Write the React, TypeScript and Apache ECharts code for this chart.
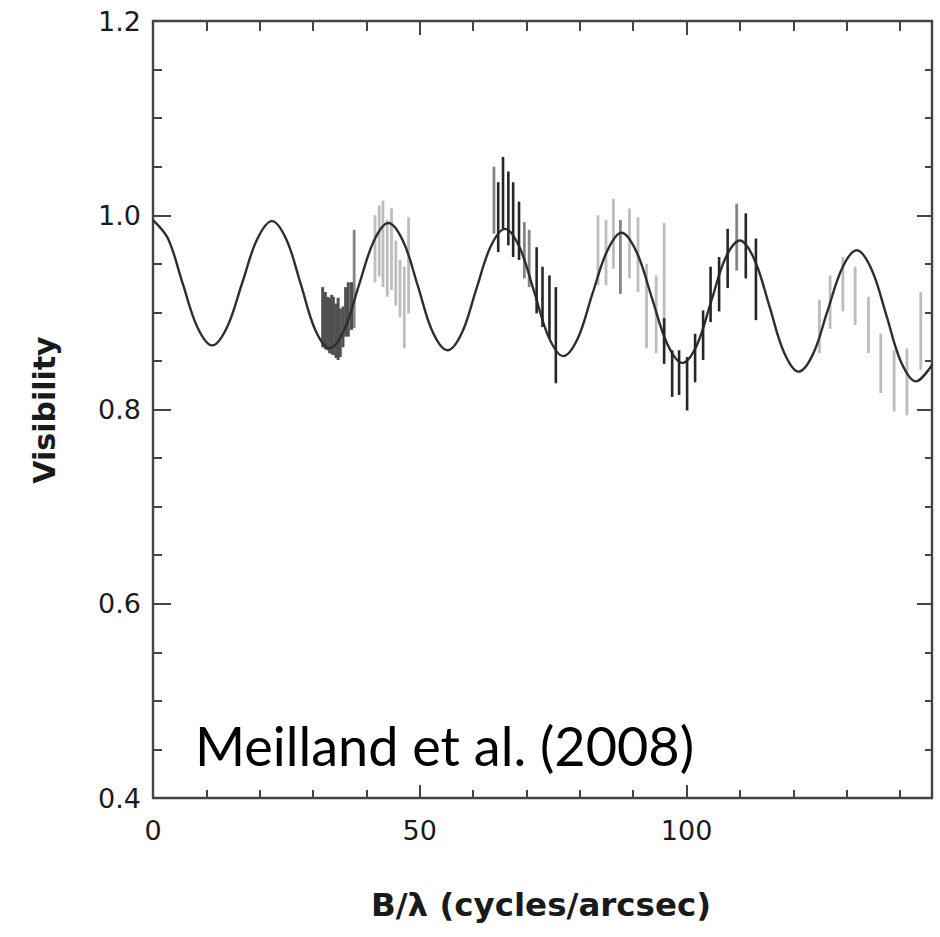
import React, { useEffect, useRef } from "react";
import * as echarts from "echarts";

// Model visibility curve
const CURVE_X = [0, 2.8, 5.55, 8.3, 11.1, 13.9, 16.7, 19.5, 22.3, 25.0, 27.7, 30.4, 33.1, 35.85, 38.6, 41.35, 44.1, 46.9, 49.65, 52.4, 55.2, 57.9, 60.6, 63.3, 66.0, 68.7, 71.45, 74.2, 76.9, 79.6, 82.35, 85.1, 87.8, 90.65, 93.5, 96.35, 99.2, 101.9, 104.6, 107.3, 110.0, 112.75, 115.5, 118.25, 121.0, 123.7, 126.45, 129.2, 131.9, 134.7, 137.45, 140.2, 143.0, 146.0];
const CURVE_V = [0.995, 0.976, 0.930, 0.885, 0.866, 0.885, 0.930, 0.975, 0.994, 0.975, 0.929, 0.882, 0.863, 0.882, 0.928, 0.973, 0.992, 0.973, 0.927, 0.880, 0.861, 0.879, 0.924, 0.968, 0.986, 0.967, 0.921, 0.874, 0.855, 0.873, 0.919, 0.963, 0.982, 0.962, 0.915, 0.868, 0.848, 0.866, 0.911, 0.956, 0.974, 0.954, 0.907, 0.859, 0.839, 0.857, 0.902, 0.946, 0.964, 0.944, 0.897, 0.849, 0.829, 0.846];

// Error bars: [B/lambda, low, high]
const DARK_BARS = [[31.8, 0.864, 0.926], [32.3, 0.862, 0.921], [32.7, 0.861, 0.916], [33.1, 0.858, 0.915], [33.5, 0.857, 0.918], [33.8, 0.856, 0.916], [34.3, 0.853, 0.909], [34.7, 0.851, 0.915], [35.1, 0.854, 0.904], [35.6, 0.864, 0.906], [36.1, 0.875, 0.926], [36.6, 0.875, 0.931], [37.2, 0.882, 0.931]];
const MID_BARS = [[37.7, 0.884, 0.985], [63.9, 0.981, 1.050], [69.6, 0.935, 0.993], [70.5, 0.926, 0.985], [87.6, 0.919, 0.995], [109.4, 0.943, 1.012]];
const BLACK_BARS = [[64.7, 0.962, 1.034], [65.6, 0.986, 1.060], [66.6, 0.969, 1.045], [67.5, 0.957, 1.034], [68.6, 0.954, 1.014], [71.9, 0.899, 0.967], [73.0, 0.885, 0.947], [74.3, 0.873, 0.938], [75.5, 0.827, 0.926], [95.8, 0.847, 0.894], [97.3, 0.813, 0.861], [98.6, 0.815, 0.861], [100.1, 0.799, 0.854], [101.6, 0.828, 0.878], [103.1, 0.851, 0.902], [104.5, 0.890, 0.947], [106.1, 0.901, 0.957], [107.7, 0.925, 0.986], [111.1, 0.935, 1.002], [113.0, 0.892, 0.976]];
const LIGHT_BARS = [[41.6, 0.931, 1.000], [42.4, 0.937, 1.010], [43.1, 0.926, 1.015], [43.9, 0.916, 0.995], [44.7, 0.923, 1.007], [45.5, 0.907, 0.974], [46.3, 0.895, 0.954], [47.1, 0.863, 0.947], [47.9, 0.899, 0.998], [83.4, 0.928, 1.000], [84.9, 0.928, 0.995], [86.3, 0.945, 1.017], [89.3, 0.935, 1.007], [90.9, 0.921, 0.998], [92.5, 0.863, 0.950], [94.3, 0.858, 0.938], [95.8, 0.864, 0.992], [124.9, 0.858, 0.913], [126.9, 0.883, 0.938], [129.3, 0.901, 0.957], [131.6, 0.887, 0.947], [134.1, 0.858, 0.916], [136.4, 0.817, 0.878], [138.9, 0.798, 0.861], [141.3, 0.794, 0.863], [143.9, 0.841, 0.921]];

// Axis ticks / labels
const X_MINOR = [0, 10, 20, 30, 40, 50, 60, 70, 80, 90, 100, 110, 120, 130, 140];
const X_MAJOR = [0, 50, 100];
const X_LABELS = [0, 50, 100];
const X_MIN = 0;
const X_MAX = 146;
const Y_MIN = 0.4;
const Y_MAX = 1.2;

const AX = "#444444";
const TICK_FONT = "DejaVu Sans";

function barSeries(data: number[][], color: string, width: number, z: number) {
  return {
    type: "custom",
    xAxisIndex: 0,
    yAxisIndex: 0,
    z,
    data,
    encode: { x: 0, y: [1, 2] },
    renderItem: (params: any, api: any) => {
      const x = api.value(0);
      const p1 = api.coord([x, api.value(1)]);
      const p2 = api.coord([x, api.value(2)]);
      return {
        type: "line",
        shape: { x1: p1[0], y1: p1[1], x2: p2[0], y2: p2[1] },
        style: { stroke: color, lineWidth: width },
      };
    },
  };
}

export default function App() {
  const ref = useRef<HTMLDivElement>(null);
  useEffect(() => {
    if (!ref.current) return;
    const chart = echarts.init(ref.current, null, { renderer: "svg" });
    const tickLine = { color: AX, width: 2 };
    const baseX = { type: "value", min: X_MIN, max: X_MAX, splitLine: { show: false } };
    const baseY = { type: "value", min: Y_MIN, max: Y_MAX, interval: 0.2, splitLine: { show: false } };
    chart.setOption({
      animation: false,
      backgroundColor: "#ffffff",
      grid: { left: 153, right: 8, top: 21, bottom: 139, containLabel: false },
      xAxis: [
        {
          ...baseX,
          position: "bottom",
          interval: 10,
          axisLine: { show: true, onZero: false, lineStyle: { color: AX, width: 2.4 } },
          axisTick: { show: true, inside: true, length: 8, customValues: X_MINOR, lineStyle: tickLine },
          axisLabel: { show: true, customValues: X_LABELS, margin: 19, fontSize: 27, color: "#1a1a1a", fontFamily: TICK_FONT },
        },
        {
          ...baseX,
          position: "bottom",
          axisLine: { show: false, onZero: false },
          axisTick: { show: true, inside: true, length: 13, customValues: X_MAJOR, lineStyle: tickLine },
          axisLabel: { show: false },
        },
        {
          ...baseX,
          position: "top",
          interval: 10,
          axisLine: { show: true, onZero: false, lineStyle: { color: AX, width: 2.4 } },
          axisTick: { show: true, inside: true, length: 10, customValues: X_MINOR, lineStyle: tickLine },
          axisLabel: { show: false },
        },
        {
          ...baseX,
          position: "top",
          axisLine: { show: false, onZero: false },
          axisTick: { show: true, inside: true, length: 14, customValues: X_MAJOR, lineStyle: tickLine },
          axisLabel: { show: false },
        },
      ],
      yAxis: [
        {
          ...baseY,
          position: "left",
          axisLine: { show: true, onZero: false, lineStyle: { color: AX, width: 2.4 } },
          axisTick: { show: true, inside: true, length: 18, lineStyle: tickLine },
          minorTick: { show: true, splitNumber: 4, length: 9, lineStyle: tickLine },
          axisLabel: {
            show: true,
            margin: 12,
            fontSize: 27,
            color: "#1a1a1a",
            fontFamily: TICK_FONT,
            formatter: (v: number) => v.toFixed(1),
          },
        },
        {
          ...baseY,
          position: "right",
          axisLine: { show: true, onZero: false, lineStyle: { color: AX, width: 2.4 } },
          axisTick: { show: true, inside: true, length: 15, lineStyle: tickLine },
          minorTick: { show: true, splitNumber: 4, length: 7, lineStyle: tickLine },
          axisLabel: { show: false },
        },
      ],
      graphic: [
        {
          type: "text",
          x: 44,
          y: 410,
          rotation: Math.PI / 2,
          style: {
            text: "Visibility",
            fontFamily: TICK_FONT,
            fontWeight: "bold",
            fontSize: 30,
            fill: "#1a1a1a",
            align: "center",
            verticalAlign: "middle",
          },
        },
        {
          type: "text",
          x: 541,
          y: 905,
          style: {
            text: "B/λ (cycles/arcsec)",
            fontFamily: TICK_FONT,
            fontWeight: "bold",
            fontSize: 32.5,
            fill: "#1a1a1a",
            align: "center",
            verticalAlign: "middle",
          },
        },
        {
          type: "text",
          x: 195,
          y: 745,
          z: 100,
          style: {
            text: "Meilland et al. (2008)",
            fontFamily: "Lato",
            fontSize: 54,
            fill: "#000",
            align: "left",
            verticalAlign: "middle",
          },
        },
      ],
      series: [
        barSeries(LIGHT_BARS, "#bdbdbd", 2.8, 2),
        barSeries(MID_BARS, "#858585", 2.8, 3),
        barSeries(DARK_BARS, "#505050", 3, 3),
        {
          type: "line",
          xAxisIndex: 0,
          yAxisIndex: 0,
          z: 4,
          data: CURVE_X.map((x, i) => [x, CURVE_V[i]]),
          showSymbol: false,
          symbol: "none",
          smooth: 0.35,
          lineStyle: { color: "#2e2e2e", width: 2.4 },
        },
        barSeries(BLACK_BARS, "#262626", 2.6, 5),
      ],
    });
    return () => chart.dispose();
  }, []);
  return (
    <div
      ref={ref}
      style={{ position: "fixed", left: 0, top: 0, width: 940, height: 937, background: "#fff" }}
    />
  );
}
